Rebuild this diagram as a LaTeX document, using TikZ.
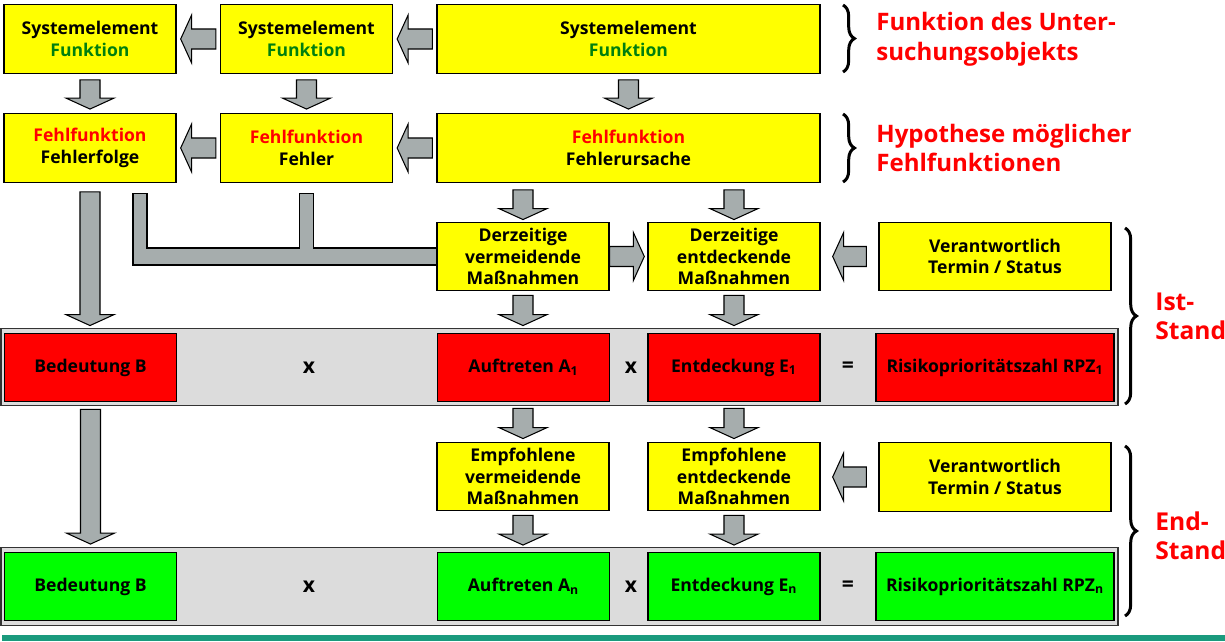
\documentclass[tikz,border=0pt]{standalone}
\usepackage{fontspec}
\setmainfont{Open Sans}
\usetikzlibrary{calc,decorations.pathreplacing}

\definecolor{boxyellow}{HTML}{FFFF00}
\definecolor{boxred}{HTML}{FF0000}
\definecolor{boxgreen}{HTML}{00FF00}
\definecolor{bandgrey}{HTML}{DCDCDC}
\definecolor{arrowgrey}{HTML}{A6ADAD}
\definecolor{textgreen}{HTML}{007F0E}
\definecolor{textred}{HTML}{FF0000}
\definecolor{lineteal}{HTML}{1A9A7D}

% block arrows (shaft, head width, head length)
\newcommand{\shaftw}{5.7pt}
\newcommand{\headw}{13.6pt}
\newcommand{\headl}{6.2pt}
\newcommand{\arrowdown}[2]{%
  \draw[blockarrow] let \p1=#1, \p2=#2 in
    (\x1-\shaftw,\y1) -- (\x1+\shaftw,\y1) -- (\x1+\shaftw,\y2+\headl) -- (\x1+\headw,\y2+\headl)
    -- (\x1,\y2) -- (\x1-\headw,\y2+\headl) -- (\x1-\shaftw,\y2+\headl) -- cycle;}
\newcommand{\arrowleft}[2]{%
  \draw[blockarrow] let \p1=#1, \p2=#2 in
    (\x1,\y1+\shaftw) -- (\x1,\y1-\shaftw) -- (\x2+\headl,\y1-\shaftw) -- (\x2+\headl,\y1-\headw)
    -- (\x2,\y1) -- (\x2+\headl,\y1+\headw) -- (\x2+\headl,\y1+\shaftw) -- cycle;}
\newcommand{\arrowright}[2]{%
  \draw[blockarrow] let \p1=#1, \p2=#2 in
    (\x1,\y1+\shaftw) -- (\x1,\y1-\shaftw) -- (\x2-\headl,\y1-\shaftw) -- (\x2-\headl,\y1-\headw)
    -- (\x2,\y1) -- (\x2-\headl,\y1+\headw) -- (\x2-\headl,\y1+\shaftw) -- cycle;}

\begin{document}
\begin{tikzpicture}[x=0.02cm, y=-0.02cm,
  box/.style={draw=black, line width=0.8pt, fill=boxyellow, minimum width=3.44cm, minimum height=1.37cm,
    align=center, inner sep=0pt, font=\fontsize{10}{12.2}\selectfont\bfseries},
  band/.style={draw=black!80, line width=0.8pt, fill=bandgrey, minimum width=22.34cm, minimum height=1.55cm},
  op/.style={inner sep=0pt, font=\fontsize{12}{14}\selectfont\bfseries},
  side/.style={anchor=west, align=left, text=textred, inner sep=0pt, font=\fontsize{13.7}{17}\selectfont\bfseries},
  blockarrow/.style={fill=arrowgrey, draw=black, line width=0.6pt, line join=miter},
  curly/.style={decorate, decoration={brace, amplitude=6.5pt, aspect=0.5}, line width=1.7pt}]
	\useasboundingbox (0,0) rectangle (1225,642);

	% row 1
	\node[box] (sysA) at (90,39) {Systemelement\\\textcolor{textgreen}{Funktion}};
	\node[box] (sysB) at (306.5,39) {Systemelement\\\textcolor{textgreen}{Funktion}};
	\node[box, minimum width=7.66cm] (sysC) at (628.5,39) {Systemelement\\\textcolor{textgreen}{Funktion}};
	% row 2
	\node[box] (fehlA) at (90,148) {\textcolor{textred}{Fehlfunktion}\\Fehlerfolge};
	\node[box] (fehlB) at (306.5,148) {\textcolor{textred}{Fehlfunktion}\\Fehler};
	\node[box, minimum width=7.66cm] (fehlC) at (628.5,148) {\textcolor{textred}{Fehlfunktion}\\Fehlerursache};
	% row 3
	\node[box] (dermv) at (523,256.5) {Derzeitige\\vermeidende\\Maßnahmen};
	\node[box] (derent) at (734,256.5) {Derzeitige\\entdeckende\\Maßnahmen};
	\node[box, minimum width=4.64cm] (verant1) at (995,256.5) {Verantwortlich\\Termin / Status};
	% Ist-Stand
	\node[band] (band1) at (559.5,367) {};
	\node[box, fill=boxred] (bed1) at (90.5,367.5) {Bedeutung B};
	\node[op] (mal1) at (309,368) {x};
	\node[box, fill=boxred] (auf1) at (523.5,367.5) {Auftreten A\textsubscript{1}};
	\node[op] (mal2) at (631,368) {x};
	\node[box, fill=boxred] (ent1) at (734,367.5) {Entdeckung E\textsubscript{1}};
	\node[op] (gleich1) at (848,367) {=};
	\node[box, fill=boxred, minimum width=4.76cm] (rpz1) at (995,367.5) {Risikoprioritätszahl RPZ\textsubscript{1}};
	% row 5
	\node[box] (empmv) at (523,476.5) {Empfohlene\\vermeidende\\Maßnahmen};
	\node[box] (empent) at (734,476.5) {Empfohlene\\entdeckende\\Maßnahmen};
	\node[box, minimum width=4.64cm] (verant2) at (995,477) {Verantwortlich\\Termin / Status};
	% End-Stand
	\node[band] (band2) at (559.5,586.5) {};
	\node[box, fill=boxgreen] (bed2) at (90.5,586.5) {Bedeutung B};
	\node[op] (mal3) at (309,587) {x};
	\node[box, fill=boxgreen] (auf2) at (523.5,586.5) {Auftreten A\textsubscript{n}};
	\node[op] (mal4) at (631,587) {x};
	\node[box, fill=boxgreen] (ent2) at (734,586.5) {Entdeckung E\textsubscript{n}};
	\node[op] (gleich2) at (848,586) {=};
	\node[box, fill=boxgreen, minimum width=4.76cm] (rpz2) at (995,586.5) {Risikoprioritätszahl RPZ\textsubscript{n}};

	% side labels
	\node[side] (funk) at (876,39) {Funktion des Unter-\\suchungsobjekts};
	\node[side] (hypo) at (876,148) {Hypothese möglicher\\Fehlfunktionen};
	\node[side, font=\fontsize{14}{16.5}\selectfont\bfseries] (ist) at (1155,316) {Ist-\\Stand};
	\node[side, font=\fontsize{14}{16.5}\selectfont\bfseries] (end) at (1155,536) {End-\\Stand};
	\draw[curly] (843,5) -- (843,72);
	\draw[curly] (843,114) -- (843,182);
	\draw[curly] (1125,228) -- (1125,404);
	\draw[curly] (1125,446) -- (1125,616);

	% arrows row 1 and 2
	\arrowleft{($(sysB.west)+(-4,0)$)}{($(sysA.east)+(4,0)$)}
	\arrowleft{($(sysC.west)+(-4,0)$)}{($(sysB.east)+(4,0)$)}
	\arrowleft{($(fehlB.west)+(-4,0)$)}{($(fehlA.east)+(4,0)$)}
	\arrowleft{($(fehlC.west)+(-4,0)$)}{($(fehlB.east)+(4,0)$)}
	\arrowdown{($(sysA.south)+(0,6)$)}{($(fehlA.north)+(0,-4)$)}
	\arrowdown{($(sysB.south)+(0,6)$)}{($(fehlB.north)+(0,-4)$)}
	\arrowdown{($(sysC.south)+(0,6)$)}{($(fehlC.north)+(0,-4)$)}
	% Fehlerursache
	\arrowdown{($(fehlC.south -| dermv.north)+(0,7)$)}{($(dermv.north)+(0,-2)$)}
	\arrowdown{($(fehlC.south -| derent.north)+(0,7)$)}{($(derent.north)+(0,-2)$)}
	% Fehlerfolge
	\arrowdown{($(fehlA.south)+(0,9)$)}{($(band1.north -| fehlA.south)+(0,-2)$)}
	\coordinate (barT) at ($(dermv.west)+(0,-8.5)$);
	\coordinate (barB) at ($(dermv.west)+(0,8.5)$);
	\coordinate (a1) at ($(fehlA.south)+(43,11)$);
	\coordinate (a2) at ($(fehlA.south)+(57,11)$);
	\coordinate (b1) at ($(fehlB.south)+(-7,11)$);
	\coordinate (b2) at ($(fehlB.south)+(7,11)$);
	\draw[blockarrow] (a1) -- (a2) -- (a2 |- barT) -- (b1 |- barT) -- (b1) -- (b2) -- (b2 |- barT)
		-- (barT) -- (barB) -- (a1 |- barB) -- cycle;
	% row 3
	\arrowright{(dermv.east)}{($(derent.west)+(-3,0)$)}
	\arrowleft{($(verant1.west)+(-12,0)$)}{($(derent.east)+(12,0)$)}
	\arrowdown{($(dermv.south)+(0,4)$)}{($(band1.north -| dermv.south)+(0,-2)$)}
	\arrowdown{($(derent.south)+(0,4)$)}{($(band1.north -| derent.south)+(0,-2)$)}
	% row 5
	\arrowdown{($(band1.south -| empmv.north)+(0,2)$)}{($(empmv.north)+(0,-3)$)}
	\arrowdown{($(band1.south -| empent.north)+(0,2)$)}{($(empent.north)+(0,-3)$)}
	\arrowleft{($(verant2.west)+(-12,0)$)}{($(empent.east)+(12,0)$)}
	\arrowdown{($(empmv.south)+(0,4)$)}{($(band2.north -| empmv.south)+(0,-2)$)}
	\arrowdown{($(empent.south)+(0,4)$)}{($(band2.north -| empent.south)+(0,-2)$)}
	\arrowdown{($(band1.south -| bed1.south)+(0,3)$)}{($(band2.north -| bed2.north)+(0,-3)$)}

	% bottom line
	\fill[lineteal] (2,635) rectangle (1225,641);
\end{tikzpicture}
\end{document}
